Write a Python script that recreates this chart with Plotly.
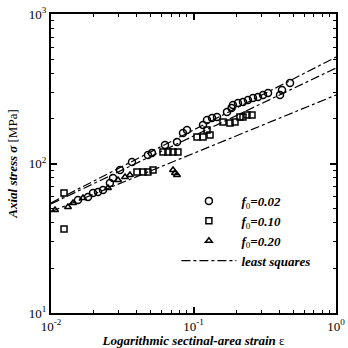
import plotly.graph_objects as go

# f0 = 0.02 (circles)
c_x = [0.01546, 0.01818, 0.01971, 0.02137, 0.02317, 0.0259, 0.02723, 0.0305, 0.0370, 0.0479,
       0.0511, 0.0631, 0.0766, 0.0844, 0.0900, 0.1166, 0.1244, 0.1349, 0.1462, 0.1718,
       0.1848, 0.1892, 0.2052, 0.2225, 0.2411, 0.2615, 0.2836, 0.3074, 0.3333, 0.4045,
       0.4178, 0.4755]
c_y = [57.0, 59.7, 63.5, 64.5, 66.5, 74.1, 80.0, 90.5, 102.3, 114.0,
       117.5, 133.0, 139.3, 159.9, 167.5, 180.9, 195.4, 201.5, 204.6, 221.1,
       235.1, 246.2, 253.9, 257.8, 265.9, 274.0, 278.4, 287.0, 296.0, 287.0,
       310.0, 345.6]

# f0 = 0.10 (squares)
s_x = [0.01234, 0.01234, 0.0401, 0.0442, 0.0479, 0.0520, 0.0611, 0.0662, 0.0718, 0.0778,
       0.1058, 0.1166, 0.1306, 0.1244, 0.1611, 0.1804, 0.1955, 0.2119, 0.2225, 0.2373, 0.2573]
s_y = [63.5, 36.5, 87.7, 87.7, 87.7, 90.5, 119.4, 119.4, 119.4, 119.4,
       150.4, 150.4, 155.1, 167.5, 189.5, 186.6, 189.5, 204.6, 204.6, 211.1, 211.1]

# f0 = 0.20 (triangles)
t_x = [0.01067, 0.01316, 0.01427, 0.01677, 0.02512, 0.02953, 0.03307, 0.0358, 0.0718, 0.0741, 0.0766]
t_y = [48.9, 51.2, 54.4, 58.8, 68.6, 77.6, 81.2, 83.8, 90.5, 86.4, 83.8]

# least squares lines (endpoints)
ls_x = [0.01, 1.0]
ls_y_002 = [54.5, 515.0]
ls_y_010 = [53.6, 435.0]
ls_y_020 = [47.6, 287.0]

x_tickvals = [0.01, 0.1, 1]
x_ticktext = ["10<sup>-2</sup>", "10<sup>-1</sup>", "10<sup>0</sup>"]
y_tickvals = [10, 100, 1000]
y_ticktext = ["10<sup>1</sup>", "10<sup>2</sup>", "10<sup>3</sup>"]

SERIF = "Liberation Serif, Times New Roman, serif"

fig = go.Figure()
fig.add_trace(go.Scatter(x=c_x, y=c_y, mode="markers", name="<i><b>f</b></i><sub>0</sub><b><i>=0.02</i></b>",
                         marker=dict(symbol="circle-open", size=7, color="black", line=dict(width=1.5))))
fig.add_trace(go.Scatter(x=s_x, y=s_y, mode="markers", name="<i><b>f</b></i><sub>0</sub><b><i>=0.10</i></b>",
                         marker=dict(symbol="square-open", size=6, color="black", line=dict(width=1.5))))
fig.add_trace(go.Scatter(x=t_x, y=t_y, mode="markers", name="<i><b>f</b></i><sub>0</sub><b><i>=0.20</i></b>",
                         marker=dict(symbol="triangle-up-open", size=6, color="black", line=dict(width=1.5))))
for i, ly in enumerate([ls_y_002, ls_y_010, ls_y_020]):
    fig.add_trace(go.Scatter(x=ls_x, y=ly, mode="lines", name="<b><i>least squares</i></b>",
                             showlegend=(i == 0),
                             line=dict(color="black", width=1.2, dash="dashdot")))

axis_common = dict(
    type="log", showgrid=False, zeroline=False, showline=True, linecolor="black", linewidth=2,
    mirror="allticks", ticks="inside", ticklen=6, tickwidth=1.5, tickcolor="black",
    minor=dict(ticks="inside", ticklen=3, tickwidth=1, tickcolor="black", dtick="D1", showgrid=False),
    tickfont=dict(family=SERIF, size=13, color="black"),
)

fig.update_xaxes(**axis_common, range=[-2, 0], tickvals=x_tickvals, ticktext=x_ticktext,
                 title=dict(text="<b><i>Logarithmic sectinal-area strain</i></b> ε", standoff=2,
                            font=dict(family=SERIF, size=13, color="black")),
                 automargin=False)
fig.update_yaxes(**axis_common, range=[1, 3], tickvals=y_tickvals, ticktext=y_ticktext,
                 title=dict(text="<b><i>Axial stress σ</i></b> [MPa]", standoff=8,
                            font=dict(family=SERIF, size=13, color="black")),
                 automargin=False)

fig.update_layout(
    width=348, height=348,
    margin=dict(l=51, r=12, t=14, b=35),
    paper_bgcolor="white", plot_bgcolor="white",
    showlegend=True,
    legend=dict(x=0.44, y=0.425, xanchor="left", yanchor="top", bgcolor="rgba(0,0,0,0)",
                font=dict(family=SERIF, size=13, color="black"), itemwidth=55,
                tracegroupgap=0),
)

fig.write_html("out.html")
